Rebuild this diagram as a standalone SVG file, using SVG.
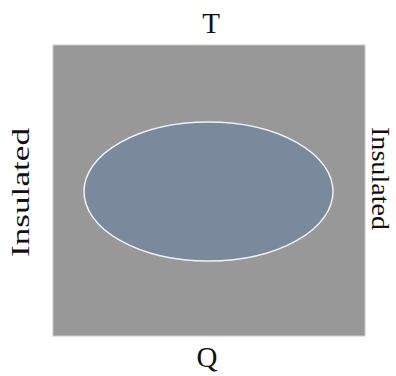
<svg xmlns="http://www.w3.org/2000/svg" width="396" height="376" viewBox="0 0 396 376">
<style>
text{font-family:'Liberation Serif','Times New Roman',Tinos,serif;fill:#111111;}
</style>
<rect width="396" height="376" fill="#ffffff"/>
<g id="plate">
<rect x="53" y="45" width="312" height="291" fill="#989898" stroke="#c8c8c8" stroke-width="1"/>
</g>
<g id="inclusion">
<ellipse cx="208.5" cy="191.5" rx="124.5" ry="69.5" fill="#7a899b" stroke="#eef3f8" stroke-width="1.5"/>
</g>
<g id="labels">
<text x="211" y="33" font-size="29" text-anchor="middle">T</text>
<text x="207" y="367" font-size="29" text-anchor="middle">Q</text>
<text font-size="26" text-anchor="middle" textLength="129" lengthAdjust="spacingAndGlyphs" transform="translate(29,192.5) rotate(-90)">Insulated</text>
<text font-size="26" text-anchor="middle" textLength="103" lengthAdjust="spacingAndGlyphs" transform="translate(372,178.5) rotate(90)">Insulated</text>
</g>
</svg>
